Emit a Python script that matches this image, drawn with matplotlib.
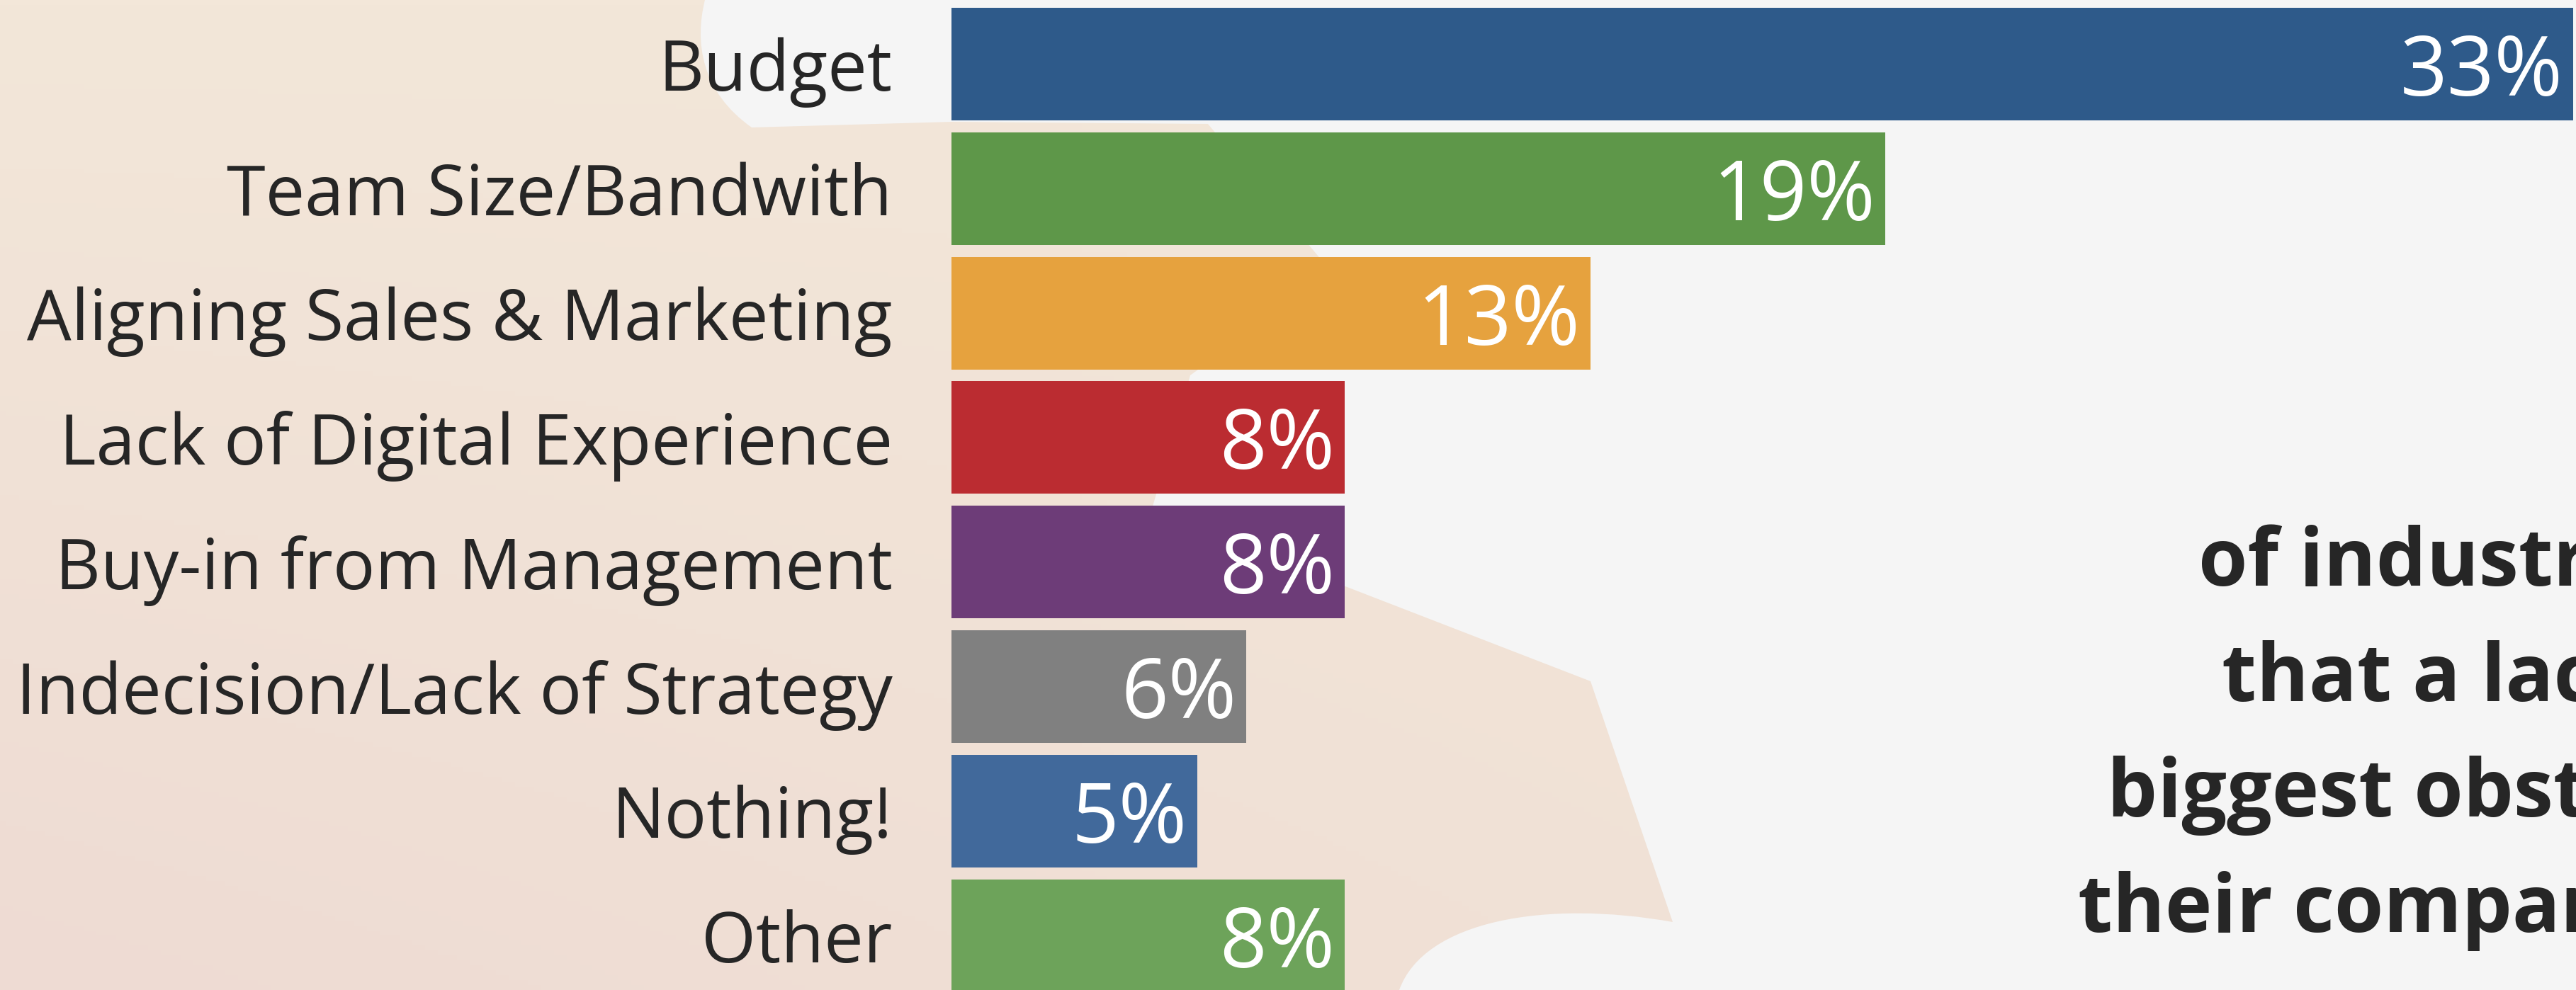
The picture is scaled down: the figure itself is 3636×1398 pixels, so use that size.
import numpy as np
import matplotlib
matplotlib.use("Agg")
import matplotlib.pyplot as plt
from matplotlib.patches import PathPatch
from matplotlib.path import Path

categories = ["Budget", "Team Size/Bandwith", "Aligning Sales & Marketing",
              "Lack of Digital Experience", "Buy-in from Management",
              "Indecision/Lack of Strategy", "Nothing!", "Other"]
values = [33, 19, 13, 8, 8, 6, 5, 8]
bar_colors = ["#2E5A8A", "#5E9749", "#E6A23E", "#BB2C31",
              "#6D3C78", "#808080", "#41699B", "#6DA35A"]
side_text = ["of industry", "that a lack", "biggest obstacle", "their company"]

W, H = 3636, 1398
DPI = 100
plt.rcParams['font.family'] = ['Open Sans', 'DejaVu Sans']

fig = plt.figure(figsize=(W / DPI, H / DPI), dpi=DPI)
fig.patch.set_facecolor("#F5F5F5")

# background decoration (pixel coords)
bg = fig.add_axes([0, 0, 1, 1])
bg.set_xlim(0, W)
bg.set_ylim(H, 0)
bg.axis("off")

verts = [(0, 0), (995, 0),
         (980, 60), (990, 130), (1061, 180),
         (1343, 172), (1705, 175), (1880, 385), (1680, 530), (1625, 722),
         (2245, 962), (2361, 1302),
         (2182, 1270), (2010, 1300), (1975, 1398),
         (0, 1398), (0, 0)]
codes = [Path.MOVETO, Path.LINETO,
         Path.CURVE4, Path.CURVE4, Path.CURVE4,
         Path.LINETO, Path.LINETO, Path.LINETO, Path.LINETO, Path.LINETO,
         Path.LINETO, Path.LINETO,
         Path.CURVE4, Path.CURVE4, Path.CURVE4,
         Path.LINETO, Path.CLOSEPOLY]
shape = PathPatch(Path(verts, codes), facecolor="none", edgecolor="none")
bg.add_patch(shape)

top = np.array([243, 231, 217]) / 255
bottom = np.array([238, 219, 211]) / 255
yy, xx = np.mgrid[0:1:200j, 0:1:400j]
t = np.clip(yy * (1 - 0.8 * xx), 0, 1)[..., None]
grad = top * (1 - t) + bottom * t
im = bg.imshow(grad, extent=[0, W, H, 0], aspect="auto", zorder=0)
im.set_clip_path(shape)

# bar chart
left_px = 1343
px_per_pct = 69.35
pitch = 175.8
first_center = 90.5
ax = fig.add_axes([left_px / W, 0, 1 - left_px / W, 1])
ax.patch.set_alpha(0)
ypos = np.arange(len(categories))
ax.barh(ypos, values, height=159 / pitch, color=bar_colors)
ax.set_xlim(0, (W - left_px) / px_per_pct)
ax.set_ylim((H - first_center) / pitch, -first_center / pitch)
for s in ax.spines.values():
    s.set_visible(False)
ax.set_xticks([])
ax.set_yticks(ypos)
ax.set_yticklabels(categories, fontsize=71.4, color="#262626")
ax.tick_params(axis="y", length=0, pad=60)

for i, v in enumerate(values):
    ax.annotate(f"{v}%", (v, i), xytext=(-10, 0), textcoords="offset points",
                ha="right", va="center_baseline", color="white",
                fontsize=84, fontweight="normal")

# side text, cut by the right edge as in the original
for k, (txt, x0) in enumerate(zip(side_text, [3103, 3136, 2974, 2933])):
    fig.text(x0 / W, 1 - (827 + 163 * k) / H, txt, ha="left", va="baseline",
             fontsize=81, fontweight="bold", color="#262626")

fig.savefig("out.png", dpi=DPI, facecolor=fig.get_facecolor())
